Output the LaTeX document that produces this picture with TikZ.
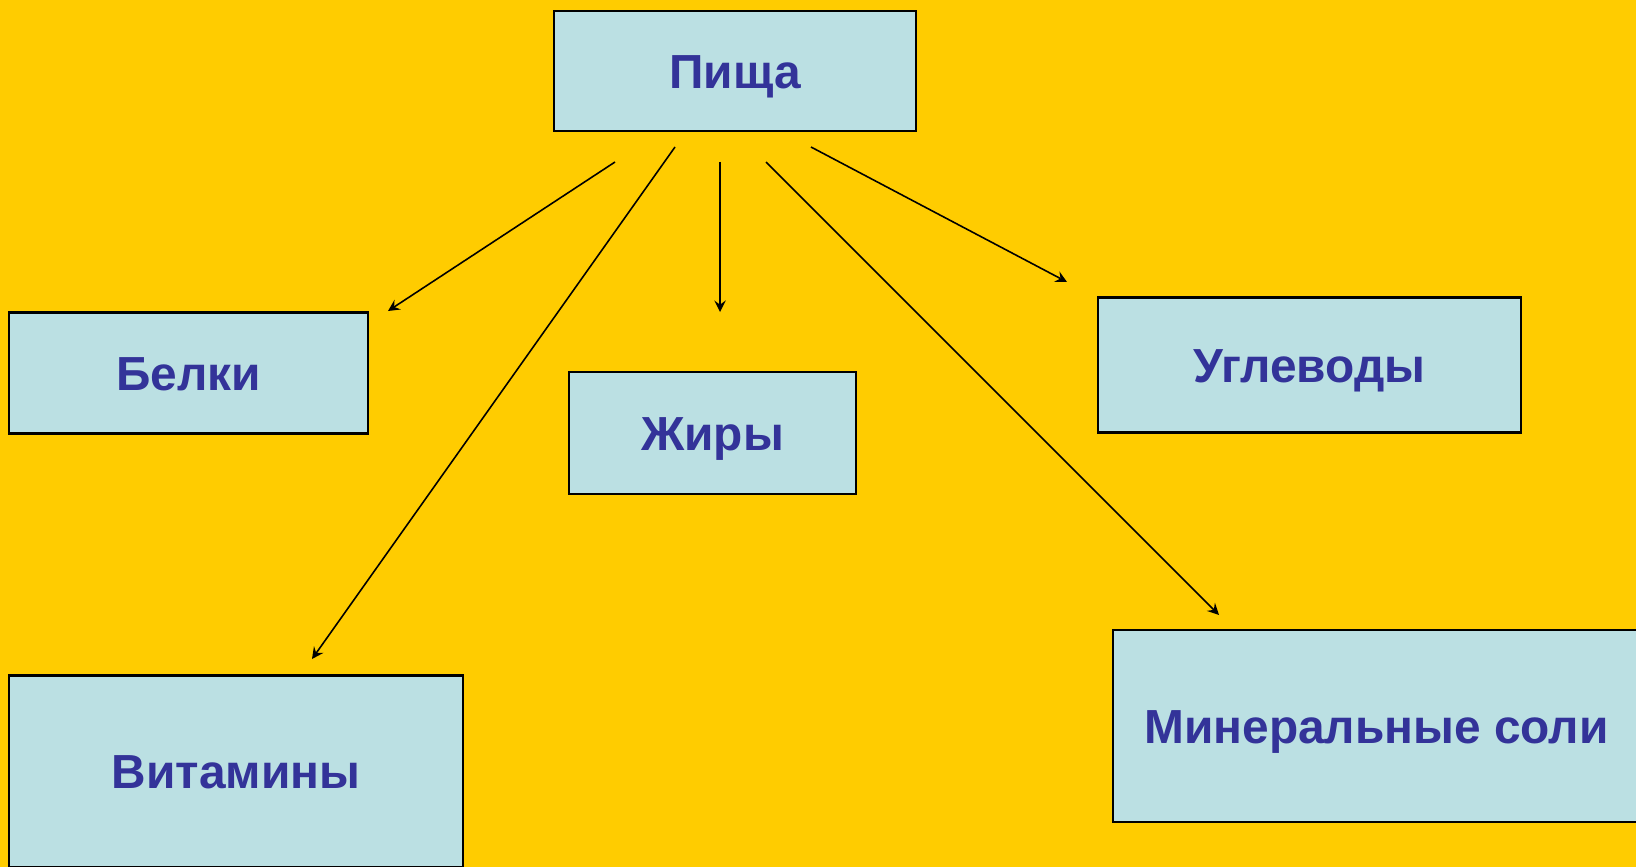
\documentclass[tikz,border=0pt]{standalone}
\usepackage{fontspec}
\setmainfont{Liberation Sans}
\usepackage{xcolor}
\usetikzlibrary{shapes,positioning}
\definecolor{bg}{HTML}{FFCC00}
\definecolor{boxfill}{HTML}{BBE0E3}
\definecolor{txt}{HTML}{333399}
\tikzset{box/.style={rectangle,draw,fill=boxfill,line width=0.6pt,inner sep=0pt,text height=9.8pt,text depth=0pt,text=txt,font=\fontsize{13.6}{16}\selectfont\bfseries}}

\begin{document}
\begin{tikzpicture}[>=stealth,x=0.01cm,y=-0.01cm]
    \useasboundingbox (0,0) rectangle (1636,867);
    \fill[bg] (0,0) rectangle (1636,867);

    \node[box,minimum width=3.62cm,minimum height=1.2cm] (pisha) at (735,71) {Пища};
    \node[box,minimum width=3.59cm,minimum height=1.21cm] (belki) at (188.5,373) {Белки};
    \node[box,minimum width=2.87cm,minimum height=1.22cm] (zhiry) at (712.5,433) {Жиры};
    \node[box,minimum width=4.23cm,minimum height=1.35cm] (ugl) at (1309.5,365) {Углеводы};
    \node[box,minimum width=4.54cm,minimum height=1.91cm] (vit) at (236,771) {Витамины};
    \node[box,minimum width=5.27cm,minimum height=1.92cm] (min) at (1376.5,726) {Минеральные соли};

    \coordinate (s1) at (615,162);
    \coordinate (e1) at (388,311);
    \coordinate (s2) at (675,147);
    \coordinate (e2) at (312,659);
    \coordinate (s3) at (720,162);
    \coordinate (e3) at (720,312);
    \coordinate (s4) at (766,162);
    \coordinate (e4) at (1219,615);
    \coordinate (s5) at (811,147);
    \coordinate (e5) at (1067,282);

    \draw [->,line width=0.45pt] (s1) to [] (e1);
    \draw [->,line width=0.45pt] (s2) to [] (e2);
    \draw [->,line width=0.45pt] (s3) to [] (e3);
    \draw [->,line width=0.45pt] (s4) to [] (e4);
    \draw [->,line width=0.45pt] (s5) to [] (e5);
\end{tikzpicture}
\end{document}
